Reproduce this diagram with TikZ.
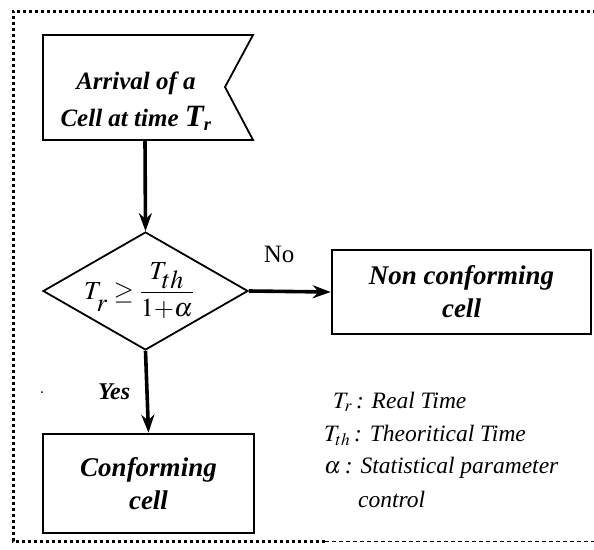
\documentclass[tikz,border=0pt]{standalone}
\usepackage{mathptmx}
\usepackage{fontspec}
\setmainfont{Liberation Serif}
\usetikzlibrary{shapes.geometric, arrows.meta}

\begin{document}
\begin{tikzpicture}[x=1pt,y=-1pt,
  box/.style={draw,line width=2.6pt,inner sep=0pt,align=center,font=\fontsize{27}{33}\selectfont\bfseries\itshape},
  arrow/.style={line width=3.6pt,-{Stealth[length=18pt,width=13pt]}},
  note/.style={anchor=west,inner sep=0pt,font=\fontsize{23.5}{26}\selectfont\itshape}]
  \useasboundingbox (0,0) rectangle (594,549);
  % frame
  \draw[line width=3pt,dash pattern=on 3pt off 3pt] (325,541) -- (13,541) -- (13,11) -- (594,11);
  \draw[line width=1pt,dash pattern=on 4pt off 3pt] (325,541) -- (594,541);
  \fill (42,392) circle (1pt);
  % arrival of a cell
  \draw[line width=1.8pt] (43,35) -- (253,35) -- (225,87) -- (253,140) -- (43,140) -- cycle;
  \node[box,draw=none,font=\fontsize{25}{37}\selectfont\bfseries\itshape] (arr) at (136,101)
    {Arrival of a\\Cell at time {\fontsize{31}{30}\selectfont T}\textsubscript{r}};
  \coordinate (arrout) at (145,140);
  % test
  \node[draw,shape=diamond,line width=1.8pt,inner sep=0pt,minimum width=205pt,minimum height=118pt] (test) at (145.5,291) {};
  \node[inner sep=0pt] (cond) at (139,291)
    {\fontsize{26}{30}\selectfont$\displaystyle T_{\raisebox{-8pt}{$r$}} \geq \frac{T_{\raisebox{-3pt}{$th$}}}{1{+}\alpha}$};
  \node[box,minimum width=259pt,minimum height=84pt] (nonconf) at (461.5,292) {Non conforming\\cell};
  \node[box,minimum width=211pt,minimum height=99pt] (conf) at (148.5,483.5) {Conforming\\cell};
  \draw[arrow] (arrout) -- (test.north);
  \draw[arrow] (test.east) -- (nonconf.west) node[pos=0.37,above=27pt,inner sep=0pt,font=\fontsize{25}{28}\selectfont] (no) {No};
  \draw[arrow] (test.south) -- (conf.north) node[midway,left=15pt,inner sep=0pt,font=\fontsize{24}{28}\selectfont\bfseries\itshape] (yes) {Yes};
  % legend
  \node[note] (leg1) at (333,402) {$T_r$\,: Real Time};
  \node[note] (leg2) at (324,435) {$T_{th}$\,: Theoritical Time};
  \node[note] (leg3) at (324,468) {$\alpha$\,: Statistical parameter};
  \node[note] (leg4) at (358,499) {control};
\end{tikzpicture}
\end{document}
